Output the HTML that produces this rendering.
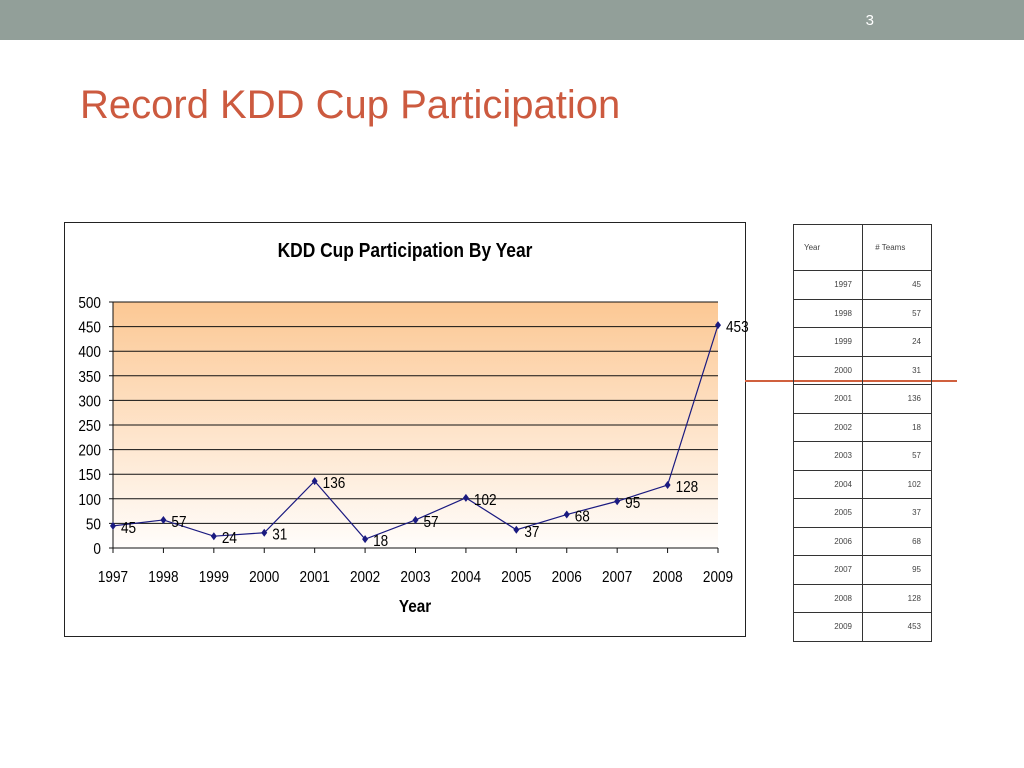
<!DOCTYPE html>
<html><head><meta charset="utf-8"><style>
body{margin:0;width:1024px;height:768px;background:#fff;position:relative;overflow:hidden;font-family:"Liberation Sans",sans-serif}
#topbar{position:absolute;left:0;top:0;width:1024px;height:40px;background:#929f99}
#pnum{position:absolute;right:150px;top:12px;color:#fff;font-size:15px}
#title{position:absolute;left:80px;top:83px;font-size:40px;color:#cc5a3f}
#accent{position:absolute;left:745px;top:380px;width:212px;height:2px;background:#d0603e}
table{position:absolute;left:793px;top:224px;border-collapse:collapse;font-size:8px;color:#444}
td{border:1px solid #333;height:27.5px;padding:0 10px;text-align:right;vertical-align:middle}
</style></head><body>
<div id="topbar"><span id="pnum">3</span></div>
<div id="title">Record KDD Cup Participation</div>
<svg id="chart" width="1024" height="768" style="position:absolute;left:0;top:0">
<defs><linearGradient id="bg" x1="0" y1="0" x2="0" y2="1"><stop offset="0" stop-color="#fcc894"/><stop offset="1" stop-color="#fffdfb"/></linearGradient></defs>
<rect x="64.5" y="222.5" width="681" height="414" fill="#fff" stroke="#222"/>
<g id="g"></g>
</svg>
<div id="accent"></div>
<table id="tbl"><tr><td style="height:45px;width:48px;text-align:left;padding-left:10px">Year</td><td style="width:48px;text-align:left">&nbsp;# Teams</td></tr></table>
<script>
const years=["1997","1998","1999","2000","2001","2002","2003","2004","2005","2006","2007","2008","2009"];
const teams=[45,57,24,31,136,18,57,102,37,68,95,128,453];
const yTicks=[0,50,100,150,200,250,300,350,400,450,500];
const NS="http://www.w3.org/2000/svg",g=document.getElementById('g');
const x0=113,x1=718,yb=548,yt=302;
const X=i=>x0+(x1-x0)*i/(years.length-1), Y=v=>yb-(yb-yt)*v/500;
function el(t,a,txt){const e=document.createElementNS(NS,t);for(const k in a)e.setAttribute(k,a[k]);if(txt!=null)e.textContent=txt;g.appendChild(e);return e;}
let e=el('rect',{x:x0,y:yt,width:x1-x0,height:yb-yt,fill:'url(#bg)'});

e=el('text',{x:405,y:257,'text-anchor':'middle','font-size':20,'font-weight':'bold',transform:'translate(405,0) scale(0.87,1) translate(-405,0)'},'KDD Cup Participation By Year');

yTicks.forEach(v=>{const l=el('line',{x1:x0-4,x2:x1,y1:Y(v),y2:Y(v),stroke:'#111','stroke-width':1});

const t=el('text',{x:101,y:Y(v)+6,'text-anchor':'end','font-size':16,transform:`translate(101,0) scale(0.85,1) translate(-101,0)`},v);
});
el('line',{x1:x0,x2:x0,y1:yt,y2:yb,stroke:'#111'});
years.forEach((y,i)=>{el('line',{x1:X(i),x2:X(i),y1:yb,y2:yb+5,stroke:'#111'});
const t=el('text',{x:X(i),y:582,'text-anchor':'middle','font-size':16,transform:`translate(${X(i)},0) scale(0.85,1) translate(${-X(i)},0)`},y);
});
e=el('text',{x:415,y:612,'text-anchor':'middle','font-size':18,'font-weight':'bold',transform:'translate(415,0) scale(0.85,1) translate(-415,0)'},'Year');

e=el('polyline',{points:teams.map((v,i)=>X(i)+','+Y(v)).join(' '),fill:'none',stroke:'#1a1a80','stroke-width':1.2});

teams.forEach((v,i)=>{const x=X(i),y=Y(v);
const p=el('polygon',{points:`${x},${y-4} ${x+3},${y} ${x},${y+4} ${x-3},${y}`,fill:'#1a1a80'});

const t=el('text',{x:x+8,y:y+7,'font-size':16,transform:`translate(${x+8},0) scale(0.85,1) translate(${-(x+8)},0)`},v);

const tb=document.getElementById('tbl');const r=tb.insertRow();

r.insertCell().textContent=years[i];r.insertCell().textContent=v;});
</script>
</body></html>
